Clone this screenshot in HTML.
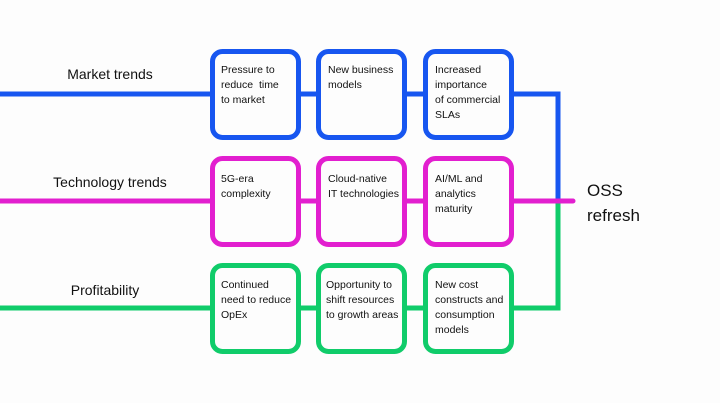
<!DOCTYPE html>
<html><head><meta charset="utf-8"><style>
html,body{margin:0;padding:0;background:#fdfdfd;}
svg{display:block;font-family:"Liberation Sans",sans-serif;}
.b{font-size:10.5px;fill:#111;}
.l{font-size:14px;fill:#111;}
</style></head><body>
<svg width="720" height="403" viewBox="0 0 720 403">
<rect width="720" height="403" fill="#fdfdfd"/>
<g fill="none" stroke-width="5">
<path d="M0 94H558V201" stroke="#1756f0"/>
<path d="M558 201V308H0" stroke="#10cc6a"/>
<path d="M0 201H573" stroke="#e21fcf" stroke-linecap="round"/>
<g stroke="#1756f0" fill="#fdfdfd">
<rect x="212.5" y="51.5" width="86" height="86" rx="10"/>
<rect x="318.5" y="51.5" width="86" height="86" rx="10"/>
<rect x="425.5" y="51.5" width="86" height="86" rx="10"/>
</g>
<g stroke="#e21fcf" fill="#fdfdfd">
<rect x="212.5" y="158.5" width="86" height="86" rx="10"/>
<rect x="318.5" y="158.5" width="86" height="86" rx="10"/>
<rect x="425.5" y="158.5" width="86" height="86" rx="10"/>
</g>
<g stroke="#10cc6a" fill="#fdfdfd">
<rect x="212.5" y="265.5" width="86" height="86" rx="10"/>
<rect x="318.5" y="265.5" width="86" height="86" rx="10"/>
<rect x="425.5" y="265.5" width="86" height="86" rx="10"/>
</g>
</g>
<text class="l" x="110" y="79" text-anchor="middle">Market trends</text>
<text class="l" x="110" y="187" text-anchor="middle">Technology trends</text>
<text class="l" x="105" y="295" text-anchor="middle">Profitability</text>
<g class="b">
<text x="221" y="73">Pressure to</text><text x="221" y="88">reduce&#160; time</text><text x="221" y="103">to market</text>
<text x="328" y="73">New business</text><text x="328" y="88">models</text>
<text x="435" y="73">Increased</text><text x="435" y="88">importance</text><text x="435" y="103">of commercial</text><text x="435" y="118">SLAs</text>
<text x="221" y="182">5G-era</text><text x="221" y="197">complexity</text>
<text x="328" y="182">Cloud-native</text><text x="328" y="197">IT technologies</text>
<text x="435" y="182">AI/ML and</text><text x="435" y="197">analytics</text><text x="435" y="212">maturity</text>
<text x="221" y="288">Continued</text><text x="221" y="303">need to reduce</text><text x="221" y="318">OpEx</text>
<text x="326" y="288">Opportunity to</text><text x="326" y="303">shift resources</text><text x="326" y="318">to growth areas</text>
<text x="435" y="288">New cost</text><text x="435" y="303">constructs and</text><text x="435" y="318">consumption</text><text x="435" y="333">models</text>
</g>
<text x="587" y="196" style="font-size:17px;fill:#111">OSS</text>
<text x="587" y="221" style="font-size:17px;fill:#111">refresh</text>
</svg>
</body></html>
